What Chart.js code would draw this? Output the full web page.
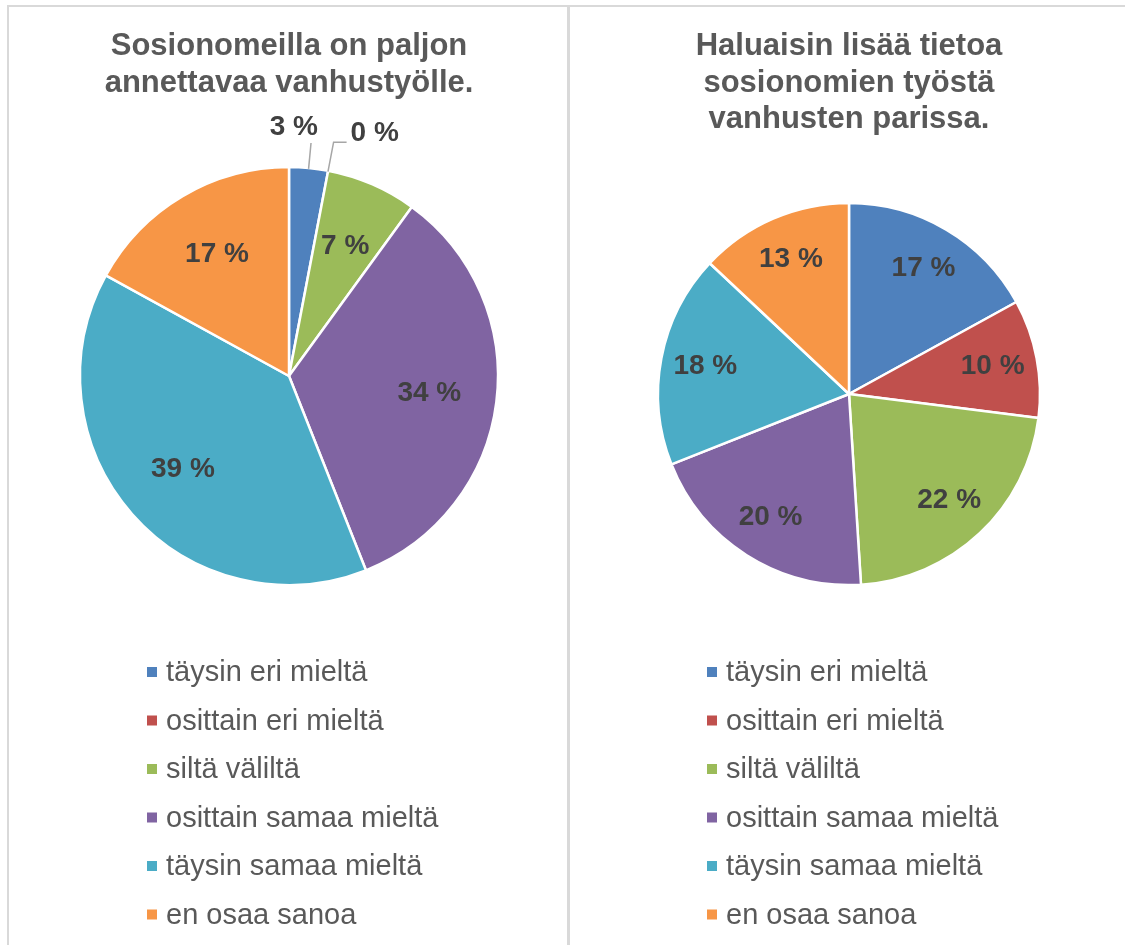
<!DOCTYPE html>
<html>
<head>
<meta charset="utf-8">
<script src="https://cdn.jsdelivr.net/npm/chart.js@4.4.1/dist/chart.umd.min.js"></script>
<style>
  body { margin: 0; background: #fff; }
  .wrap { position: relative; width: 1125px; height: 945px; overflow: hidden; }
  .line { position: absolute; background: #d9d9d9; }
  canvas { position: absolute; }
</style>
</head>
<body>
<div class="wrap">
  <div class="line" style="left:8px;top:5px;width:1117px;height:2px"></div>
  <div class="line" style="left:7px;top:5px;width:2px;height:940px"></div>
  <div class="line" style="left:567px;top:5px;width:3px;height:940px"></div>
  <canvas id="chartLeft" width="558" height="938" style="left:9px;top:7px"></canvas>
  <canvas id="chartRight" width="555" height="938" style="left:570px;top:7px"></canvas>
</div>
<script>
// categories and values
const categories = ['täysin eri mieltä', 'osittain eri mieltä', 'siltä väliltä',
  'osittain samaa mieltä', 'täysin samaa mieltä', 'en osaa sanoa'];
const leftValues = [3, 0, 7, 34, 39, 17];
const rightValues = [17, 10, 22, 20, 18, 13];
const sliceColors = ['#4f81bd', '#c0504d', '#9bbb59', '#8064a2', '#4bacc6', '#f79646'];
const leftTitle = ['Sosionomeilla on paljon', 'annettavaa vanhustyölle.'];
const rightTitle = ['Haluaisin lisää tietoa', 'sosionomien työstä', 'vanhusten parissa.'];

const FONT = '"Liberation Sans", Arial, sans-serif';

// titles, legend and percentage labels
const panelText = {
  id: 'panelText',
  afterDraw(chart, args, opts) {
    const ctx = chart.ctx;
    const arcs = chart.getDatasetMeta(0).data;
    const values = chart.data.datasets[0].data;
    const cx = arcs[0].x, cy = arcs[0].y, r = arcs[0].outerRadius - 1;
    ctx.save();

    // title
    ctx.fillStyle = '#595959';
    ctx.font = 'bold 31px ' + FONT;
    ctx.textAlign = 'center';
    ctx.textBaseline = 'alphabetic';
    opts.title.forEach((line, i) => ctx.fillText(line, cx, 48 + i * 36.5));

    // legend
    ctx.font = '29px ' + FONT;
    ctx.textAlign = 'left';
    ctx.textBaseline = 'middle';
    chart.data.labels.forEach((lab, i) => {
      const y = 665 + i * 48.5;
      ctx.fillStyle = sliceColors[i];
      ctx.fillRect(opts.legendX, y - 5, 10, 10);
      ctx.fillStyle = '#595959';
      ctx.fillText(lab, opts.legendX + 19, y + 1);
    });

    // data labels
    ctx.font = 'bold 28px ' + FONT;
    ctx.fillStyle = '#404040';
    let prevBox = null;
    arcs.forEach((arc, i) => {
      const v = values[i];
      const txt = v + ' %';
      const mid = (arc.startAngle + arc.endAngle) / 2;
      const dx = Math.cos(mid), dy = Math.sin(mid);
      const w = ctx.measureText(txt).width;
      if (v >= 5) {
        ctx.textAlign = 'center';
        ctx.fillText(txt, cx + dx * r * opts.labelPos, cy + dy * r * opts.labelPos);
        return;
      }
      // small slice: outside label with leader line
      const ex = cx + dx * r, ey = cy + dy * r;
      const lr = r + (prevBox ? 30 : 26);
      const lx = cx + dx * lr, ly = cy + dy * lr;
      ctx.strokeStyle = '#a6a6a6';
      ctx.lineWidth = 1.5;
      ctx.beginPath();
      ctx.moveTo(ex, ey);
      ctx.lineTo(lx, ly);
      let box = { x0: lx + 7 - w, x1: lx + 7, y0: ly - 30, y1: ly - 2 };
      if (prevBox && box.x0 < prevBox.x1) {
        ctx.lineTo(lx + 13, ly);
        ctx.stroke();
        ctx.textAlign = 'left';
        ctx.fillText(txt, lx + 17, ly - 9);
        box = { x0: lx + 17, x1: lx + 17 + w, y0: ly - 23, y1: ly + 5 };
      } else {
        ctx.stroke();
        ctx.textAlign = 'right';
        ctx.fillText(txt, lx + 7, ly - 16);
      }
      prevBox = box;
    });
    ctx.restore();
  }
};

function makePie(id, values, title, radius, padding, legendX, labelPos) {
  return new Chart(document.getElementById(id).getContext('2d'), {
    type: 'pie',
    data: {
      labels: categories,
      datasets: [{
        data: values,
        backgroundColor: sliceColors,
        borderColor: '#ffffff',
        borderWidth: 2.5
      }]
    },
    options: {
      responsive: false,
      animation: false,
      events: [],
      radius: radius,
      layout: { padding: padding },
      plugins: {
        legend: { display: false },
        tooltip: { enabled: false },
        panelText: { title: title, legendX: legendX, labelPos: labelPos }
      }
    },
    plugins: [panelText]
  });
}

const chartLeft = makePie('chartLeft', leftValues, leftTitle, 209,
  { left: 72, right: 70, top: 161, bottom: 361 }, 138, 0.68);
const chartRight = makePie('chartRight', rightValues, rightTitle, 191,
  { left: 88, right: 85, top: 196, bottom: 360 }, 137, 0.77);
</script>
</body>
</html>
